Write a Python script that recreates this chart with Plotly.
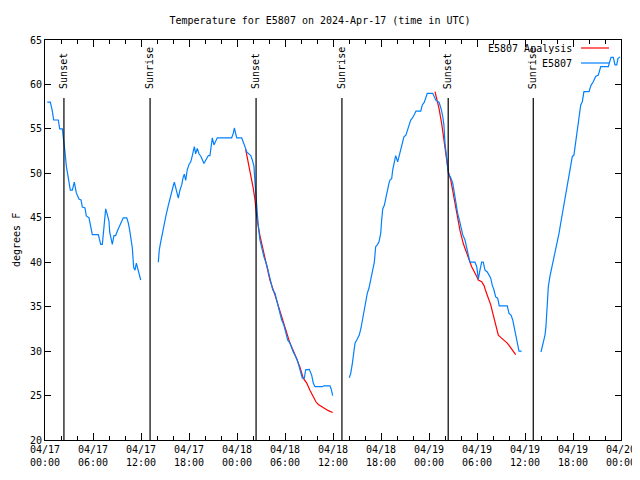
import plotly.graph_objects as go

# ---------------- data ----------------
obs_seg1_t = ["17 00:17","17 00:40","17 00:55","17 01:05","17 01:40","17 01:50","17 02:10","17 02:22","17 02:30","17 02:40",
              "17 03:00","17 03:10","17 03:25","17 03:40","17 03:55","17 04:15","17 04:30","17 04:40","17 05:00","17 05:10",
              "17 05:30","17 05:50","17 05:55","17 06:40","17 06:58","17 07:10","17 07:22","17 07:35","17 07:45","17 08:00",
              "17 08:05","17 08:20","17 08:25","17 08:37","17 08:50","17 09:05","17 09:20","17 09:35","17 09:47","17 10:13",
              "17 10:25","17 10:35","17 10:45","17 10:55","17 11:05","17 11:15","17 11:25","17 11:35","17 11:45","17 11:58"]
obs_seg1_v = [58,58,57,56,56,55,55,53.6,52.4,50.8,
              48.9,48.1,48.1,49,47.8,47.1,47,46.2,46.1,45.2,
              45,43.3,43.1,43.1,42,42,43.6,46,45.5,44.6,
              43.4,42.3,42,43,43,43.6,44.1,44.6,45,45,
              44.4,43.6,42.5,41.6,39.4,39.1,39.9,39.2,38.6,38]

obs_seg2_t = ["17 14:10","17 14:17","17 14:28","17 14:40","17 14:52","17 15:08","17 15:25","17 15:43","17 16:02","17 16:10",
              "17 16:22","17 16:40","17 16:52","17 17:05","17 17:17","17 17:25","17 17:35","17 17:47","17 18:00","17 18:13",
              "17 18:25","17 18:32","17 18:40","17 18:50","17 19:02","17 19:15","17 19:30","17 19:52","17 20:07","17 20:25",
              "17 20:37","17 20:45","17 20:55","17 21:07","17 21:22","17 21:32","17 23:20","17 23:32","17 23:40","17 23:50",
              "17 23:58","18 00:35","18 00:47","18 01:00","18 01:13","18 01:25","18 01:43","18 01:55","18 02:07","18 02:15",
              "18 02:22","18 02:32","18 02:40","18 02:52","18 03:07","18 03:22","18 03:43","18 04:02","18 04:15","18 04:28",
              "18 04:45","18 04:58","18 05:10","18 05:22","18 05:35","18 05:52","18 06:07","18 06:20","18 06:37","18 06:50",
              "18 07:02","18 07:20","18 07:32","18 07:47","18 08:00","18 08:10","18 08:25","18 08:35","18 09:02","18 09:20",
              "18 09:32","18 09:45","18 10:40","18 10:52","18 11:37","18 11:45","18 11:58"]
obs_seg2_v = [40,41.4,42.3,43.3,44.2,45.3,46.4,47.6,48.6,49,
              48.3,47.2,48.1,48.7,49.6,49.9,49.2,50.4,51,51.3,
              52,52.6,53,52.2,52.8,52.2,51.9,51.1,51.6,52,
              52,53.2,54,53.2,53.8,54,54,54.5,55.1,54.5,
              54,54,53.6,53,52.4,52.2,52,51.5,50.8,49,
              47.2,45.3,44,42.5,41.6,40.6,39.7,38.5,37.4,36.9,
              36.5,35.75,35,34.25,33.5,32.9,32,31.25,30.9,30.3,
              29.9,29.4,29,28.2,27.5,26.95,26.95,27.9,27.95,27.3,
              26.4,26,26,26.1,26.1,25.8,25]

obs_seg3_t = ["18 14:02","18 14:13","18 14:25","18 14:37","18 14:45","18 14:58","18 15:17","18 15:30","18 15:40","18 15:52",
              "18 16:05","18 16:17","18 16:30","18 16:43","18 16:55","18 17:10","18 17:20","18 17:32","18 17:45","18 17:58",
              "18 18:05","18 18:13","18 18:25","18 18:35","18 18:47","18 19:00","18 19:07","18 19:20","18 19:28","18 19:40",
              "18 19:50","18 20:05","18 20:15","18 20:28","18 20:40","18 20:52","18 21:07","18 21:17","18 21:30","18 21:43",
              "18 21:55","18 22:15","18 22:22","18 22:58","18 23:10","18 23:25","18 23:35","18 23:47","19 00:28","19 00:40",
              "19 00:52","19 01:15","19 01:30","19 01:43","19 01:52","19 02:00","19 02:13","19 02:25","19 02:43","19 02:58",
              "19 03:10","19 03:22","19 03:35","19 03:47","19 04:00","19 04:13","19 04:30","19 04:43","19 04:55","19 05:07",
              "19 05:45","19 05:58","19 06:10","19 06:22","19 06:35","19 06:47","19 07:00","19 07:17","19 07:30","19 07:43",
              "19 07:55","19 08:07","19 08:20","19 08:35","19 08:47","19 09:47","19 10:00","19 10:15","19 10:28","19 10:40",
              "19 10:52","19 11:05","19 11:15","19 11:35"]
obs_seg3_v = [27,27.5,28.6,29.75,30.9,31.25,31.8,32.6,33.5,34.6,
              35.75,36.5,37.1,38,38.9,40,41.75,41.95,42.3,43.25,
              44.75,46,46.4,47.2,47.75,48.9,49.25,49.4,50.4,51.5,
              52,51.3,51.9,52.8,53.6,54.1,54.3,54.9,55.4,56,
              56.2,56.75,57,57,57.7,58,58.4,59,59,58.6,
              58.2,58,57.3,56.4,55.4,53.4,51.3,50,49.5,48.9,
              47.8,46.5,45.5,44.8,43.8,43.1,42.5,41.4,40.8,40,
              40,39.5,38.1,39.1,40,40,39.1,38.9,38.6,38.2,
              37.4,36.9,36.1,35.95,35.1,35.1,34.25,34.05,33.5,32.6,
              31.6,30.9,30,30]

obs_seg4_t = ["19 14:00","19 14:17","19 14:30","19 14:37","19 14:47","19 14:55","19 15:07","19 15:20","19 15:32","19 15:45",
              "19 15:58","19 16:15","19 16:28","19 16:40","19 16:52","19 17:05","19 17:17","19 17:30","19 17:43","19 17:55",
              "19 18:07","19 18:20","19 18:32","19 18:45","19 18:58","19 19:10","19 19:22","19 20:00","19 20:15","19 20:32",
              "19 20:50","19 21:10","19 21:28","19 22:25","19 22:37","19 22:45","19 23:02","19 23:15","19 23:28","19 23:37",
              "19 23:52"]
obs_seg4_v = [29.9,30.9,31.8,32.75,35.75,37.25,38.4,39.3,40.25,41.4,
              42.3,43.25,44.4,45.5,46.6,47.6,48.5,49.6,50.9,51.9,
              52.05,53.6,55.25,56.6,57.7,58.06,59.2,59.2,59.9,60.3,
              60.9,61.05,62,62,62.6,63.05,63.05,62.2,62.2,62.9,
              63.1]

ana_seg1_t = ["18 01:05","18 01:25","18 01:45","18 02:02","18 02:15","18 02:28","18 02:52","18 03:30","18 04:07","18 04:45",
              "18 05:22","18 06:00","18 06:37","18 07:15","18 07:52","18 08:17","18 08:43","18 09:07","18 09:32","18 09:52",
              "18 10:10","18 10:35","18 11:00","18 11:25","18 11:58"]
ana_seg1_v = [52.7,51.3,49.8,48.3,47,45.1,43,40.3,38,36.3,
              34.5,32.6,30.9,29.6,28.2,26.95,26.4,25.6,24.9,24.3,
              24,23.75,23.5,23.3,23.1]

ana_seg2_t = ["19 00:45","19 00:58","19 01:15","19 01:35","19 01:52","19 02:07","19 02:25","19 02:43","19 03:02","19 03:28",
              "19 03:52","19 04:17","19 04:47","19 05:20","19 05:58","19 06:10","19 06:35","19 06:52","19 07:07","19 07:25",
              "19 07:43","19 08:02","19 08:20","19 08:40","19 08:58","19 09:22","19 09:47","19 10:07","19 10:32","19 10:50"]
ana_seg2_v = [59.2,58.4,57.3,55.6,53.9,51.9,50.2,49.25,47.75,45.5,
              43.6,42.1,40.8,39.5,38.4,38,37.8,37.4,36.7,35.9,
              35.2,34.05,32.9,31.8,31.55,31.25,30.9,30.5,29.9,29.6]

sun_events_t = ["17 02:22","17 13:08","18 02:23","18 13:07","19 02:24","19 13:02"]
sun_events_label = ["Sunset","Sunrise","Sunset","Sunrise","Sunset","Sunrise"]

x_start = "2024-04-17 00:00"
x_end = "2024-04-20 00:00"
y_range = [20, 65]
title_text = "Temperature for E5807 on 2024-Apr-17 (time in UTC)"
y_title = "degrees F"
legend_names = ["E5807 Analysis", "E5807"]

# ---------------- helpers ----------------
def ts(s):
    return "2024-04-" + s

def join(segs):
    xs, ys = [], []
    for t, v in segs:
        if xs:
            xs.append(None)
            ys.append(None)
        xs += [ts(a) for a in t]
        ys += list(v)
    return xs, ys

obs_x, obs_y = join([(obs_seg1_t, obs_seg1_v), (obs_seg2_t, obs_seg2_v),
                     (obs_seg3_t, obs_seg3_v), (obs_seg4_t, obs_seg4_v)])
ana_x, ana_y = join([(ana_seg1_t, ana_seg1_v), (ana_seg2_t, ana_seg2_v)])

FONT = "DejaVu Sans Mono"
RED = "#ff0000"
BLUE = "#0080ff"

# page body has an 8px default margin; compensate so the plot area lands at 45..621 x 40..440
OFF = 8
W, H = 640 - OFF, 480 - OFF
ML, MT, MR, MB = 45 - OFF, 40 - OFF, 19, 40
PW, PH = W - ML - MR, H - MT - MB  # 576 x 400

def px_x(p):  # page pixel -> paper x
    return (p - 45) / PW

def px_y(p):  # page pixel -> paper y
    return (440 - p) / PH

fig = go.Figure()
fig.add_trace(go.Scatter(x=ana_x, y=ana_y, mode="lines", name=legend_names[0],
                         line=dict(color=RED, width=1.2), connectgaps=False))
fig.add_trace(go.Scatter(x=obs_x, y=obs_y, mode="lines", name=legend_names[1],
                         line=dict(color=BLUE, width=1.2), connectgaps=False))

# Sunrise / sunset markers
for t, lab in zip(sun_events_t, sun_events_label):
    fig.add_shape(type="line", xref="x", yref="paper", x0=ts(t), x1=ts(t), y0=0, y1=px_y(98),
                  line=dict(color="black", width=1.2))
    fig.add_annotation(x=ts(t), xref="x", y=px_y(91), yref="paper", text=lab,
                       textangle=-90, showarrow=False, xanchor="center", yanchor="bottom",
                       font=dict(family=FONT, size=10, color="black"))

# gnuplot-style legend (text on the left, sample line on the right)
for i, (name, col) in enumerate(zip(legend_names, [RED, BLUE])):
    yp = px_y(48 + 15 * i)
    fig.add_annotation(x=px_x(574), xref="paper", y=yp, yref="paper", text=name,
                       showarrow=False, xanchor="right", yanchor="middle",
                       font=dict(family=FONT, size=10, color="black"))
    fig.add_shape(type="line", xref="paper", yref="paper", x0=px_x(581), x1=px_x(609),
                  y0=yp, y1=yp, line=dict(color=col, width=1.2))

# y axis title (kept inside the figure box)
fig.add_annotation(x=px_x(16), xref="paper", y=0.5, yref="paper", text=y_title,
                   textangle=-90, showarrow=False, xanchor="center", yanchor="middle",
                   font=dict(family=FONT, size=10, color="black"))

fig.update_layout(
    width=W, height=H,
    margin=dict(l=ML, r=MR, t=MT, b=MB, autoexpand=False),
    paper_bgcolor="white", plot_bgcolor="white",
    showlegend=False,
    font=dict(family=FONT, size=10, color="black"),
    title=dict(text=title_text, x=(320 - OFF) / W, xref="container", xanchor="center",
               y=1 - (20 - OFF) / H, yref="container", yanchor="middle",
               font=dict(family=FONT, size=10, color="black")),
)
fig.update_xaxes(
    type="date", range=[x_start, x_end], automargin=False,
    dtick=6 * 3600 * 1000, tick0=x_start, tickformat="%m/%d<br>%H:%M",
    ticks="inside", ticklen=7, tickcolor="black", tickwidth=1,
    minor=dict(dtick=2 * 3600 * 1000, ticks="inside", ticklen=4, tickcolor="black", showgrid=False),
    showline=True, linecolor="black", linewidth=1, mirror="allticks",
    showgrid=False, zeroline=False,
    tickfont=dict(family=FONT, size=10, color="black"),
)
fig.update_yaxes(
    range=y_range, dtick=5, tick0=20, automargin=False,
    ticks="inside", ticklen=6, tickcolor="black", tickwidth=1,
    showline=True, linecolor="black", linewidth=1, mirror="allticks",
    showgrid=False, zeroline=False,
    tickfont=dict(family=FONT, size=10, color="black"),
)

fig.write_html("out.html")
